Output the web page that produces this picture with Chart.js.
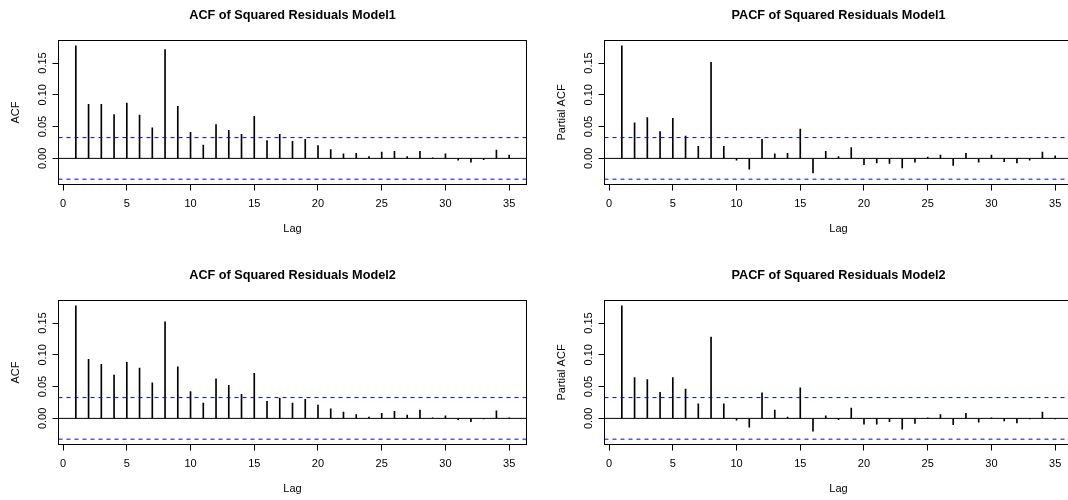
<!DOCTYPE html>
<html>
<head>
<meta charset="utf-8">
<script src="https://cdn.jsdelivr.net/npm/chart.js@4.4.1/dist/chart.umd.min.js"></script>
<style>
  html, body { margin: 0; padding: 0; background: #fff; overflow: hidden; }
  body { width: 1068px; height: 500px; position: relative; }
  canvas { position: absolute; }
</style>
</head>
<body>
<canvas id="acf-model1" width="534" height="250" style="left:0;top:0"></canvas>
<canvas id="pacf-model1" width="534" height="250" style="left:546px;top:0"></canvas>
<canvas id="acf-model2" width="534" height="250" style="left:0;top:260px"></canvas>
<canvas id="pacf-model2" width="534" height="250" style="left:546px;top:260px"></canvas>
<script>
const lags = [1, 2, 3, 4, 5, 6, 7, 8, 9, 10, 11, 12, 13, 14, 15, 16, 17, 18,
  19, 20, 21, 22, 23, 24, 25, 26, 27, 28, 29, 30, 31, 32, 33, 34, 35];

const acfModel1 = [0.177, 0.085, 0.085, 0.069, 0.087, 0.068, 0.048, 0.171, 0.082,
  0.041, 0.021, 0.053, 0.044, 0.038, 0.066, 0.028, 0.038, 0.027, 0.030, 0.020,
  0.014, 0.007, 0.008, 0.003, 0.010, 0.011, 0.003, 0.011, 0.001, 0.007, -0.003,
  -0.006, -0.002, 0.013, 0.005];
const pacfModel1 = [0.177, 0.056, 0.064, 0.042, 0.063, 0.035, 0.019, 0.151, 0.019,
  -0.003, -0.017, 0.030, 0.007, 0.008, 0.046, -0.023, 0.011, 0.003, 0.017, -0.010,
  -0.007, -0.008, -0.015, -0.006, 0.002, 0.005, -0.011, 0.008, -0.006, 0.005,
  -0.005, -0.007, -0.003, 0.010, 0.004];
const acfModel2 = [0.177, 0.093, 0.085, 0.068, 0.088, 0.079, 0.056, 0.152, 0.081,
  0.042, 0.024, 0.062, 0.052, 0.038, 0.071, 0.027, 0.032, 0.024, 0.030, 0.021,
  0.015, 0.010, 0.006, 0.002, 0.008, 0.011, 0.005, 0.013, 0.001, 0.004, -0.002,
  -0.005, -0.001, 0.012, 0.001];
const pacfModel2 = [0.177, 0.064, 0.061, 0.041, 0.064, 0.046, 0.023, 0.128, 0.023,
  -0.003, -0.014, 0.040, 0.013, 0.002, 0.048, -0.020, 0.004, -0.002, 0.016, -0.009,
  -0.009, -0.005, -0.017, -0.008, 0.001, 0.006, -0.010, 0.008, -0.006, 0.001,
  -0.004, -0.007, -0.001, 0.010, -0.001];

// 95% band, 1.96 / sqrt(n)
const confLimit = 0.0327;

const xTicks = [0, 5, 10, 15, 20, 25, 30, 35];
const yTicks = [0, 0.05, 0.10, 0.15];

const FONT = '"Liberation Sans", Arial, Helvetica, sans-serif';
Chart.defaults.font.family = FONT;
Chart.defaults.color = '#000';

// plot region inside each 534x250 canvas
const CANVAS_W = 534;
const CANVAS_H = 250;
const BOX = { left: 58.5, right: 526.5, top: 40.5, bottom: 184.5 };

// R pads axis limits by 4% of the data range
function padRange(lo, hi) {
  const pad = (hi - lo) * 0.04;
  return [lo - pad, hi + pad];
}

// box around the plot region plus rotated y tick labels, base-graphics style
const rFrame = {
  id: 'rFrame',
  afterDraw(chart) {
    const { ctx, chartArea: area } = chart;
    const yScale = chart.scales.y;
    ctx.save();
    ctx.strokeStyle = '#000';
    ctx.lineWidth = 1;
    ctx.strokeRect(area.left, area.top, area.right - area.left, area.bottom - area.top);
    ctx.fillStyle = '#000';
    ctx.font = `11px ${FONT}`;
    ctx.textAlign = 'center';
    ctx.textBaseline = 'middle';
    yScale.ticks.forEach((tick) => {
      ctx.save();
      ctx.translate(area.left - 15.5, yScale.getPixelForValue(tick.value));
      ctx.rotate(-Math.PI / 2);
      ctx.fillText(tick.value.toFixed(2), 0, 0);
      ctx.restore();
    });
    ctx.restore();
  },
};

function acfChart(canvasId, title, yLabel, values) {
  const [xMin, xMax] = padRange(lags[0], lags[lags.length - 1]);
  const [yMin, yMax] = padRange(Math.min(-confLimit, ...values), Math.max(confLimit, ...values));
  const hLine = (y) => [{ x: xMin, y }, { x: xMax, y }];
  const titleSize = 12.7;
  const titleTop = 8;

  return new Chart(document.getElementById(canvasId), {
    type: 'bar',
    data: {
      datasets: [
        {
          type: 'bar',
          data: lags.map((lag, i) => ({ x: lag, y: values[i] })),
          backgroundColor: '#000',
          borderWidth: 0,
          barThickness: 1,
          order: 4,
        },
        {
          type: 'line',
          data: hLine(0),
          borderColor: '#000',
          borderWidth: 1,
          pointRadius: 0,
          order: 3,
        },
        {
          type: 'line',
          data: hLine(confLimit),
          borderColor: '#0000ff',
          borderWidth: 1,
          borderDash: [4, 4],
          pointRadius: 0,
          order: 2,
        },
        {
          type: 'line',
          data: hLine(-confLimit),
          borderColor: '#0000ff',
          borderWidth: 1,
          borderDash: [4, 4],
          pointRadius: 0,
          order: 1,
        },
      ],
    },
    options: {
      responsive: false,
      animation: false,
      events: [],
      layout: { padding: { left: 0, right: CANVAS_W - BOX.right, top: 0, bottom: 0 } },
      plugins: {
        legend: { display: false },
        tooltip: { enabled: false },
        title: {
          display: true,
          fullSize: false,
          text: title,
          color: '#000',
          font: { size: titleSize, weight: 'bold' },
          padding: { top: titleTop, bottom: BOX.top - titleTop - titleSize * 1.2 },
        },
      },
      scales: {
        x: {
          type: 'linear',
          min: xMin,
          max: xMax,
          offset: false,
          afterBuildTicks: (scale) => { scale.ticks = xTicks.map((value) => ({ value })); },
          afterFit: (scale) => { scale.height = CANVAS_H - BOX.bottom; },
          grid: { drawOnChartArea: false, drawTicks: true, tickLength: 6, color: '#000', offset: false },
          border: { display: true, color: '#000' },
          ticks: { font: { size: 11 }, color: '#000', padding: 7, maxRotation: 0, autoSkip: false },
          title: { display: true, text: 'Lag', font: { size: 11 }, color: '#000', padding: { bottom: 14.7 } },
        },
        y: {
          type: 'linear',
          min: yMin,
          max: yMax,
          afterBuildTicks: (scale) => { scale.ticks = yTicks.map((value) => ({ value })); },
          afterFit: (scale) => { scale.width = BOX.left; },
          grid: { drawOnChartArea: false, drawTicks: true, tickLength: 6, color: '#000' },
          border: { display: false },
          ticks: { display: false },
          title: { display: true, text: yLabel, font: { size: 11 }, color: '#000', padding: { top: 9 } },
        },
      },
    },
    plugins: [rFrame],
  });
}

acfChart('acf-model1', 'ACF of Squared Residuals Model1', 'ACF', acfModel1);
acfChart('pacf-model1', 'PACF of Squared Residuals Model1', 'Partial ACF', pacfModel1);
acfChart('acf-model2', 'ACF of Squared Residuals Model2', 'ACF', acfModel2);
acfChart('pacf-model2', 'PACF of Squared Residuals Model2', 'Partial ACF', pacfModel2);
</script>
</body>
</html>
